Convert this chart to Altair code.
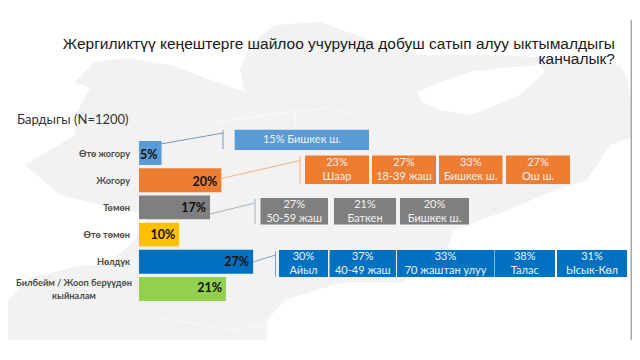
import altair as alt
import pandas as pd

W, H = 624, 344
BODY = "Lato"

# ---------- chart values ----------
categories = ["Өтө жогору", "Жогору", "Төмөн", "Өтө төмөн", "Нөлдүк", "Билбейм / Жооп берүүдөн кыйналам"]
shares = [5.4, 19.7, 17.0, 9.6, 27.3, 20.8]
share_labels = ["5%", "20%", "17%", "10%", "27%", "21%"]

box_pct = ["15% Бишкек ш.", "23%", "27%", "33%", "27%", "27%", "21%", "20%", "30%", "37%", "33%", "38%", "31%"]
box_sub = ["", "Шаар", "18-39 жаш", "Бишкек ш.", "Ош ш.", "50-59 жаш", "Баткен", "Бишкек ш.",
           "Айыл", "40-49 жаш", "70 жаштан улуу", "Талас", "Ысык-Көл"]
box_group = [0, 1, 1, 1, 1, 2, 2, 2, 4, 4, 4, 4, 4]

# ---------- layout (picture pixels, converted to canvas by the -8 page margin) ----------
bar_colors = ["#5b9bd5", "#ed7d31", "#7f7f7f", "#ffc000", "#0070c0", "#92d050"]
box_left = [234.7, 305, 372, 439, 506, 260.5, 334, 400, 279, 329.5, 397, 494.5, 557]
box_right = [369, 369, 436, 502.5, 570, 328, 396, 469, 328, 396, 494, 555, 627]
group_top = {0: 129.7, 1: 155.5, 2: 198, 4: 250}
group_bottom = {0: 150, 1: 184, 2: 224.5, 4: 277}
links = [  # start x, start y, bracket x, end y, bracket top, bracket bottom, colour
    (155, 145, 223, 133, 130, 149, "#8497b0"),
    (221.5, 178.5, 300, 160.5, 156, 184, "#f4b183"),
    (210, 214, 255, 203, 199, 224, "#a6b0bc"),
    (253, 262, 275.5, 255, 251, 277, "#7f9fc4"),
]
map_outline = [
    (8, 340), (8, 300), (30, 278), (70, 268), (110, 262), (135, 240), (150, 215), (100, 205),
    (60, 195), (25, 165), (50, 150), (75, 135), (78, 110), (90, 88), (75, 82), (95, 62),
    (125, 58), (170, 65), (205, 78), (245, 92), (240, 70), (250, 45), (275, 25), (320, 22),
    (370, 40), (420, 55), (490, 55), (560, 58), (620, 65), (628, 80), (631, 100), (631, 138),
    (610, 145), (587, 180), (556, 190), (500, 213), (453, 230), (447, 250), (400, 283),
    (340, 283), (285, 300), (267, 320), (267, 340), (8, 340),
]
lake_outline = [
    (417, 92), (422, 102), (440, 110), (470, 115), (490, 108), (520, 95), (545, 72),
    (540, 65), (500, 68), (470, 72), (440, 82), (417, 92),
]
borders = [
    [(215, 122), (290, 112), (330, 108), (365, 118), (400, 132), (410, 150)],
    [(295, 112), (296, 150)],
    [(160, 318), (230, 330), (267, 325)],
]


def sx(v):
    return v - 8


def px_x(field):
    return alt.X(field, type="quantitative", axis=None,
                 scale=alt.Scale(domain=[0, W], range=[0, W], nice=False, zero=False))


def px_y(field):
    return alt.Y(field, type="quantitative", axis=None,
                 scale=alt.Scale(domain=[0, H], range=[0, H], nice=False, zero=False))


def ring(pts):
    return [[sx(x), sx(y)] for x, y in pts]


proj = alt.Projection(type="identity", scale=1, translate=[0, 0])
land = alt.Chart(alt.Data(values=[{
    "type": "Feature", "properties": {},
    "geometry": {"type": "Polygon", "coordinates": [ring(map_outline), ring(lake_outline)]},
}], format=alt.DataFormat(type="json"))).mark_geoshape(
    fill="#f2f2f2", strokeWidth=0).project(**proj.to_dict())
border_lines = alt.Chart(alt.Data(values=[{
    "type": "Feature", "properties": {},
    "geometry": {"type": "MultiLineString", "coordinates": [ring(b) for b in borders]},
}], format=alt.DataFormat(type="json"))).mark_geoshape(
    filled=False, stroke="#fafafa", strokeWidth=1).project(**proj.to_dict())

frame = alt.Chart(pd.DataFrame({"x": [sx(631.3)], "y": [sx(20)], "y2": [sx(340)]})).mark_rule(
    color="#a6a6a6", strokeWidth=1.5
).encode(x=px_x("x"), y=px_y("y"), y2="y2")

# ---------- bars ----------
PX_PER_PCT = 4.18
zero_px = sx(139)
pct_scale = alt.Scale(domain=[-zero_px / PX_PER_PCT, (W - zero_px) / PX_PER_PCT], range=[0, W],
                      nice=False, zero=False)
band = alt.Scale(domain=categories, range=[sx(141), sx(301)], paddingInner=0.12, paddingOuter=0)
bars_df = pd.DataFrame({"cat": categories, "v": shares, "lab": share_labels, "col": bar_colors})
bars = alt.Chart(bars_df).mark_bar().encode(
    x=alt.X("zero:Q", axis=None, scale=pct_scale),
    x2="v:Q",
    y=alt.Y("cat:N", axis=None, scale=band),
    color=alt.Color("col:N", scale=None),
).transform_calculate(zero="0")
bar_text = alt.Chart(bars_df).mark_text(
    align="right", baseline="middle", dx=-4, dy=0.5, font=BODY, fontSize=12.5, fontWeight="bold", color="#111111"
).encode(
    x=alt.X("v:Q", axis=None, scale=pct_scale),
    y=alt.Y("cat:N", axis=None, scale=band),
    text="lab:N",
)

# ---------- category labels (left of the bars) ----------
rows = []
step = 160 / (6 - 0.12)
for i, c in enumerate(categories[:-1]):
    rows.append({"x": sx(130), "y": sx(141 + step * i + 12.5), "t": c})
cat_right = alt.Chart(pd.DataFrame(rows)).mark_text(
    align="right", baseline="middle", font=BODY, fontSize=9.2, fontWeight="bold", color="#4a4a4a"
).encode(x=px_x("x"), y=px_y("y"), text="t:N")
last = categories[-1].split(" кый")
cat_last = alt.Chart(pd.DataFrame({
    "x": [sx(74), sx(74)], "y": [sx(283), sx(296)], "t": [last[0], "кый" + last[1]],
})).mark_text(
    align="center", baseline="middle", font=BODY, fontSize=9.2, fontWeight="bold", color="#4a4a4a"
).encode(x=px_x("x"), y=px_y("y"), text="t:N")

# ---------- call-out boxes ----------
boxes_df = pd.DataFrame({
    "x": [sx(v) for v in box_left], "x2": [sx(v) for v in box_right],
    "y": [sx(group_top[g]) for g in box_group], "y2": [sx(group_bottom[g]) for g in box_group],
    "col": [bar_colors[g] for g in box_group],
    "pct": box_pct, "sub": box_sub,
})
boxes_df["xc"] = (boxes_df.x + boxes_df.x2) / 2
boxes_df["yc"] = (boxes_df.y + boxes_df.y2) / 2
boxes = alt.Chart(boxes_df).mark_rect().encode(
    x=px_x("x"), x2="x2", y=px_y("y"), y2="y2", color=alt.Color("col:N", scale=None))
one_line = boxes_df[boxes_df["sub"] == ""]
two_line = boxes_df[boxes_df["sub"] != ""]
box_style = dict(align="center", baseline="middle", font=BODY, fontSize=11, color="#f2f2f2")
t_one = alt.Chart(one_line).mark_text(dy=0.5, **box_style).encode(x=px_x("xc"), y=px_y("yc"), text="pct:N")
t_top = alt.Chart(two_line).mark_text(dy=-6.5, **box_style).encode(x=px_x("xc"), y=px_y("yc"), text="pct:N")
t_sub = alt.Chart(two_line).mark_text(dy=7.5, **box_style).encode(x=px_x("xc"), y=px_y("yc"), text="sub:N")

# ---------- connectors ----------
link_layers = []
for (x0, y0, x1, y1, top, bot, col) in links:
    diag = alt.Chart(pd.DataFrame({"x": [sx(x0)], "x2": [sx(x1)], "y": [sx(y0)], "y2": [sx(y1)]})).mark_rule(
        color=col, strokeWidth=1
    ).encode(x=px_x("x"), x2="x2", y=px_y("y"), y2="y2")
    tick = alt.Chart(pd.DataFrame({"x": [sx(x1)], "y": [sx(top)], "y2": [sx(bot)]})).mark_rule(
        color=col, strokeWidth=1
    ).encode(x=px_x("x"), y=px_y("y"), y2="y2")
    link_layers += [diag, tick]

# ---------- titles ----------
title_df = pd.DataFrame({
    "x": [sx(615), sx(615)], "y": [sx(43.5), sx(59)],
    "t": ["Жергиликтүү кеңештерге шайлоо учурунда добуш сатып алуу ыктымалдыгы", "канчалык?"],
})
title = alt.Chart(title_df).mark_text(
    align="right", baseline="middle", font="Liberation Sans", fontSize=15.5, color="#1a1a1a"
).encode(x=px_x("x"), y=px_y("y"), text="t:N")
sub = alt.Chart(pd.DataFrame({"x": [sx(17)], "y": [sx(119.5)], "t": ["Бардыгы (N=1200)"]})).mark_text(
    align="left", baseline="middle", font=BODY, fontSize=13, color="#333333"
).encode(x=px_x("x"), y=px_y("y"), text="t:N")

chart = alt.layer(
    land, border_lines, frame, *link_layers, bars, boxes, bar_text, cat_right, cat_last,
    t_one, t_top, t_sub, title, sub,
).resolve_scale(x="independent", y="independent", color="independent").properties(
    width=W, height=H, padding=0, autosize=alt.AutoSizeParams(type="none"),
    background="white",
).configure_view(stroke=None)

chart.save("out.html", embed_options={"renderer": "svg", "actions": False})
